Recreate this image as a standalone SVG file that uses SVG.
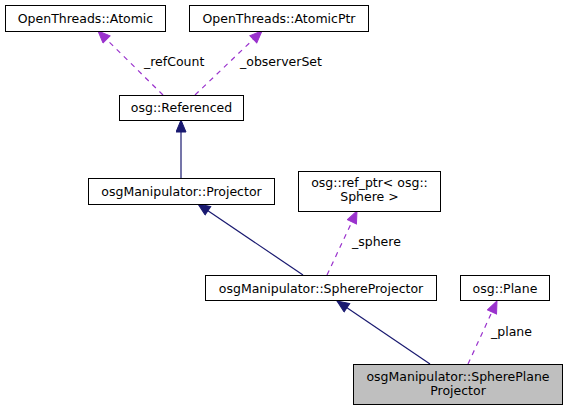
<svg xmlns="http://www.w3.org/2000/svg" width="569" height="411" viewBox="0 0 569 411">
<style>
  .box { fill: #ffffff; stroke: #000000; stroke-width: 1; }
  .cur { fill: #bfbfbf; stroke: #000000; stroke-width: 1; }
  text { font-family: "DejaVu Sans", "Noto Sans", sans-serif; font-size: 12.5px; fill: #000000; }
  .c { text-anchor: middle; }
  .inh { stroke: #191970; stroke-width: 1.2; fill: none; }
  .use { stroke: #9a32cd; stroke-width: 1.2; fill: none; stroke-dasharray: 5,5; }
</style>
<defs>
  <marker id="hInh" markerUnits="userSpaceOnUse" markerWidth="14" markerHeight="12" refX="13" refY="5.5" orient="auto">
    <path d="M1,0.5 L13,5.5 L1,10.5 Z" fill="#191970" stroke="#191970" stroke-width="1"/>
  </marker>
  <marker id="hUse" markerUnits="userSpaceOnUse" markerWidth="14" markerHeight="12" refX="13" refY="5.5" orient="auto">
    <path d="M1,0.5 L13,5.5 L1,10.5 Z" fill="#9a32cd" stroke="#9a32cd" stroke-width="1"/>
  </marker>
</defs>
<g id="edges">
  <path class="use" d="M163,95 L98,31" marker-end="url(#hUse)"/>
  <path class="use" d="M195,95 L262,31" marker-end="url(#hUse)"/>
  <path class="inh" d="M181,178 L181,120" marker-end="url(#hInh)"/>
  <path class="inh" d="M303,275 L198,204" marker-end="url(#hInh)"/>
  <path class="use" d="M327,275 L357,211" marker-end="url(#hUse)"/>
  <path class="inh" d="M430,364 L337,301" marker-end="url(#hInh)"/>
  <path class="use" d="M468,364 L497,301" marker-end="url(#hUse)"/>
  <text x="144" y="66">_refCount</text>
  <text x="240" y="66">_observerSet</text>
  <text x="352" y="246">_sphere</text>
  <text x="491" y="336">_plane</text>
</g>
<g id="atomic">
  <rect class="box" x="5.5" y="5.5" width="160" height="26"/>
  <text class="c" x="85.5" y="22.5">OpenThreads::Atomic</text>
</g>
<g id="atomicptr">
  <rect class="box" x="189.5" y="5.5" width="179" height="26"/>
  <text class="c" x="279" y="22.5">OpenThreads::AtomicPtr</text>
</g>
<g id="referenced">
  <rect class="box" x="119.5" y="95.5" width="124" height="25"/>
  <text class="c" x="181.5" y="112">osg::Referenced</text>
</g>
<g id="projector">
  <rect class="box" x="88.5" y="178.5" width="186" height="26"/>
  <text class="c" x="181.5" y="196">osgManipulator::Projector</text>
</g>
<g id="refptr">
  <rect class="box" x="298.5" y="171.5" width="142" height="40"/>
  <text class="c" x="369.5" y="187">osg::ref_ptr&lt; osg::</text>
  <text class="c" x="369.5" y="201">Sphere &gt;</text>
</g>
<g id="sphereprojector">
  <rect class="box" x="205.5" y="275.5" width="231" height="25"/>
  <text class="c" x="321" y="292.5">osgManipulator::SphereProjector</text>
</g>
<g id="plane">
  <rect class="box" x="460.5" y="275.5" width="89" height="25"/>
  <text class="c" x="505" y="292.5">osg::Plane</text>
</g>
<g id="sphereplaneprojector">
  <rect class="cur" x="353.5" y="364.5" width="209" height="40"/>
  <text class="c" x="458" y="380.5">osgManipulator::SpherePlane</text>
  <text class="c" x="458" y="394.5">Projector</text>
</g>
</svg>
